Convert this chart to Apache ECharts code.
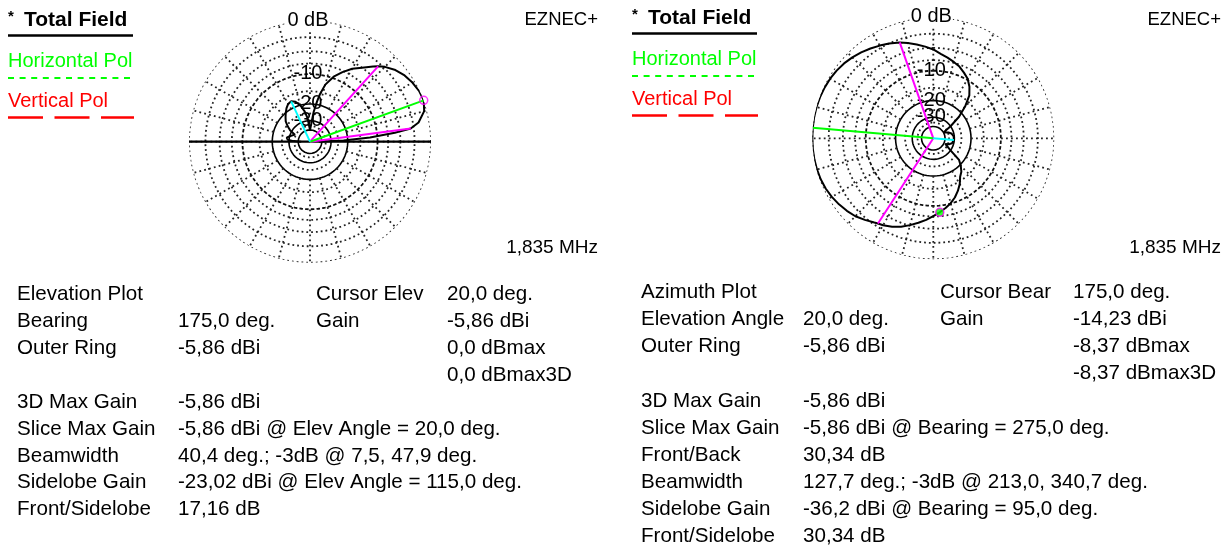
<!DOCTYPE html>
<html><head><meta charset="utf-8">
<script src="https://cdn.jsdelivr.net/npm/echarts@6/dist/echarts.min.js"></script>
<style>html,body{margin:0;padding:0;background:#fff}#c{width:1229px;height:548px}</style>
</head><body><div id="c"></div>
<script>
// ---------- DATA ----------
// Elevation plot (bearing 175 deg), angle in degrees above horizon, gain in dB relative to outer ring (-5,86 dBi)
const elevAngles = [0, 2, 4, 6, 7.5, 10, 15, 20, 25, 30, 35, 40, 45, 47.9, 50, 55, 60, 65, 70, 75, 78, 80, 83, 86, 90, 93, 96, 100, 105, 110, 115, 120, 125, 130, 135, 140, 145, 150, 155, 160, 165, 170, 175, 178, 180];
const elevGainDb = [-45, -22, -12, -6, -3, -1.6, -0.4, 0, -0.1, -0.4, -0.8, -1.4, -2.3, -3, -3.6, -5, -6.2, -7.8, -9.6, -12.3, -15.5, -18.5, -24, -33, -40, -35, -28, -23.5, -20, -18, -17.16, -17.5, -18.6, -20, -21.5, -23, -25.5, -28.5, -34, -36, -30, -28, -29, -34, -45];

// Azimuth plot (elevation 20 deg), compass bearing in degrees, gain in dB relative to outer ring
const azAngles = [0, 5, 10, 15, 20, 25, 30, 35, 40, 45, 50, 55, 60, 65, 70, 75, 80, 85, 90, 95, 100, 105, 110, 115, 120, 125, 130, 135, 140, 145, 150, 155, 160, 165, 170, 175, 180, 185, 190, 195, 200, 205, 210, 213, 215, 220, 225, 230, 235, 240, 245, 250, 255, 260, 265, 270, 275, 280, 285, 290, 295, 300, 305, 310, 315, 320, 325, 330, 335, 340.7, 345, 350, 355, 360];
const azGainDb = [-5.3, -6.1, -6.7, -7.3, -7.9, -8.8, -9.7, -11.2, -13.2, -17, -22, -30, -40, -38, -34, -32, -31, -30.5, -30.4, -30.34, -30.6, -31.5, -33.5, -38, -40, -30, -22, -19.5, -17.5, -16.3, -14.2, -12.6, -11.2, -10.1, -9.2, -8.37, -7.6, -6.7, -5.9, -5.1, -4.3, -3.7, -3.2, -3, -2.8, -2.2, -1.6, -1.2, -0.85, -0.55, -0.32, -0.17, -0.08, -0.03, -0.01, 0, 0, 0, -0.02, -0.07, -0.15, -0.27, -0.43, -0.65, -0.95, -1.3, -1.7, -2.1, -2.5, -3, -3.5, -4.1, -4.7, -5.3];

// Marker lines: [angle, dB]
const elevBeamwidth = [[7.5, -3], [47.9, -3]];
const elevMax = [20, 0];
const elevSidelobe = [115, -17.16];
const elevCursor = [20, 0];
const azBeamwidth = [[213, -3], [340.7, -3]];
const azMax = [275, 0];
const azSidelobe = [95, -30.34];
const azCursor = [175, -8.37];

// Grid rings (dB) and spokes (deg)
const ringsDotted = [0, -2.5, -5, -7.5, -15, -25, -35];
const ringsDashed = [-10];
const ringsSolid = [-20, -30, -40];
const spokeAngles = [0, 15, 30, 45, 60, 75, 90, 105, 120, 135, 150, 165, 180, 195, 210, 225, 240, 255, 270, 285, 300, 315, 330, 345];
const ringLabels = ['-10', '-20', '-30'];
const ringLabelDb = [-10, -20, -30];

// Info text rows
const elevInfo = [
  ['Elevation Plot', '', 'Cursor Elev', '20,0 deg.'],
  ['Bearing', '175,0 deg.', 'Gain', '-5,86 dBi'],
  ['Outer Ring', '-5,86 dBi', '', '0,0 dBmax'],
  ['', '', '', '0,0 dBmax3D'],
  ['3D Max Gain', '-5,86 dBi', '', ''],
  ['Slice Max Gain', '-5,86 dBi @ Elev Angle = 20,0 deg.', '', ''],
  ['Beamwidth', '40,4 deg.; -3dB @ 7,5, 47,9 deg.', '', ''],
  ['Sidelobe Gain', '-23,02 dBi @ Elev Angle = 115,0 deg.', '', ''],
  ['Front/Sidelobe', '17,16 dB', '', '']
];
const azInfo = [
  ['Azimuth Plot', '', 'Cursor Bear', '175,0 deg.'],
  ['Elevation Angle', '20,0 deg.', 'Gain', '-14,23 dBi'],
  ['Outer Ring', '-5,86 dBi', '', '-8,37 dBmax'],
  ['', '', '', '-8,37 dBmax3D'],
  ['3D Max Gain', '-5,86 dBi', '', ''],
  ['Slice Max Gain', '-5,86 dBi @ Bearing = 275,0 deg.', '', ''],
  ['Front/Back', '30,34 dB', '', ''],
  ['Beamwidth', '127,7 deg.; -3dB @ 213,0, 340,7 deg.', '', ''],
  ['Sidelobe Gain', '-36,2 dBi @ Bearing = 95,0 deg.', '', ''],
  ['Front/Sidelobe', '30,34 dB', '', '']
];
const freqLabel = '1,835 MHz';
const progLabel = 'EZNEC+';

// ---------- BUILD ----------
const ARRL = 0.89; // ARRL log scale: factor 0.89 per 2 dB
const rOf = db => Math.pow(ARRL, -Math.max(db, -50) / 2);
const FONT = '"Liberation Sans", Arial, sans-serif';

const circleAngles = [];
for (let a = 0; a <= 360; a += 1) circleAngles.push(a);

const series = [];
function line(pi, data, color, width, type, z) {
  series.push({
    type: 'line', coordinateSystem: 'polar', polarIndex: pi, data: data,
    symbol: 'none', silent: true, animation: false, z: z, clip: false,
    lineStyle: { color: color, width: width, type: type }
  });
}
function grid(pi) {
  ringsDotted.forEach(db => line(pi, circleAngles.map(a => [rOf(db), a]), '#222', 1.8, [1.8, 3], 1));
  ringsDashed.forEach(db => line(pi, circleAngles.map(a => [rOf(db), a]), '#111', 1.8, [3.5, 2.2], 1));
  ringsSolid.forEach(db => line(pi, circleAngles.map(a => [rOf(db), a]), '#000', 1.6, 'solid', 1));
  spokeAngles.forEach(a => line(pi, [[rOf(-20), a], [1, a]], '#222', 1.8, [1.8, 3.2], 1));
}
grid(0); grid(1);

// ground line on elevation plot
line(0, [[1, 0], [0, 0], [1, 180]], '#000', 2.2, 'solid', 3);

// patterns
line(0, elevAngles.map((a, i) => [rOf(elevGainDb[i]), a]), '#000', 2, 'solid', 4);
line(1, azAngles.map((a, i) => [rOf(azGainDb[i]), a]), '#000', 2, 'solid', 4);

// marker lines
elevBeamwidth.forEach(p => line(0, [[0, p[0]], [rOf(p[1]), p[0]]], '#ff00ff', 2, 'solid', 5));
line(0, [[0, elevMax[0]], [rOf(elevMax[1]), elevMax[0]]], '#00ff00', 2, 'solid', 5);
line(0, [[0, elevSidelobe[0]], [rOf(elevSidelobe[1]), elevSidelobe[0]]], '#00ffff', 2, 'solid', 5);
azBeamwidth.forEach(p => line(1, [[0, p[0]], [rOf(p[1]), p[0]]], '#ff00ff', 2, 'solid', 5));
line(1, [[0, azMax[0]], [rOf(azMax[1]), azMax[0]]], '#00ff00', 2, 'solid', 5);
line(1, [[0, azSidelobe[0]], [rOf(azSidelobe[1]), azSidelobe[0]]], '#00ffff', 2, 'solid', 5);

series.push({ type: 'scatter', coordinateSystem: 'polar', polarIndex: 0, silent: true, animation: false, z: 6,
  data: [[rOf(elevCursor[1]), elevCursor[0]]], symbol: 'circle', symbolSize: 8,
  itemStyle: { color: 'rgba(0,0,0,0)', borderColor: '#ff00ff', borderWidth: 1.5 } });
series.push({ type: 'scatter', coordinateSystem: 'polar', polarIndex: 1, silent: true, animation: false, z: 6,
  data: [[rOf(azCursor[1]), azCursor[0]]], symbol: 'circle', symbolSize: 8,
  itemStyle: { color: '#00ff00', borderColor: '#ff00ff', borderWidth: 1.5 } });

// ---------- TEXT ----------
const graphics = [];
function txt(x, y, s, opt) {
  opt = opt || {};
  graphics.push({ type: 'text', x: x, y: y, z: opt.z || 10, silent: true,
    style: { text: s, fill: opt.color || '#000', font: (opt.weight || 'normal') + ' ' + (opt.size || 20) + 'px ' + FONT,
      textAlign: opt.align || 'left', textVerticalAlign: 'middle', align: opt.align || 'left', verticalAlign: 'middle',
      backgroundColor: opt.bg, padding: opt.pad } });
}
function seg(x1, y1, x2, y2, color, w, dash) {
  graphics.push({ type: 'line', z: 10, silent: true, shape: { x1: x1, y1: y1, x2: x2, y2: y2 },
    style: { stroke: color, lineWidth: w, lineDash: dash || null } });
}
function legend(x0, y0) {
  txt(x0, y0 + 17, '*', { size: 15, weight: 'bold' });
  txt(x0 + 16, y0 + 20, 'Total Field', { size: 21, weight: 'bold' });
  seg(x0, y0 + 35.5, x0 + 125, y0 + 35.5, '#000', 2.5);
  txt(x0, y0 + 61, 'Horizontal Pol', { color: '#00ff00' });
  seg(x0, y0 + 78, x0 + 124, y0 + 78, '#00ff00', 2, [6, 5.6]);
  txt(x0, y0 + 101.5, 'Vertical Pol', { color: '#ff0000' });
  seg(x0, y0 + 117.5, x0 + 126, y0 + 117.5, '#ff0000', 2.5, [35, 11.5]);
}
legend(8, 0);
legend(632, -2);

function plotLabels(cx, cy, R, xr, yTop) {
  txt(cx - 2, cy - R - 0.5, '0 dB', { align: 'center', bg: '#fff', pad: [0, 1], z: 3 });
  ringLabels.forEach((s, i) => txt(cx - 2, cy - R * rOf(ringLabelDb[i]) - 0.5, s, { align: 'center', z: 3 }));
  txt(xr, yTop, progLabel, { align: 'right', size: 18.5 });
  txt(xr, 248, freqLabel, { align: 'right', size: 19 });
}
plotLabels(310, 141.7, 121, 598, 20);
plotLabels(933.3, 138.3, 121, 1221, 20);

function info(rows, xs, y0, dy) {
  rows.forEach((r, i) => r.forEach((s, j) => { if (s) txt(xs[j], y0 + i * dy, s, { size: 20.6 }); }));
}
info(elevInfo, [17, 178, 316, 447], 294.5, 26.9);
info(azInfo, [641, 803, 940, 1073], 292.5, 27.1);

// ---------- CHART ----------
const chart = echarts.init(document.getElementById('c'), null, { renderer: 'canvas' });
chart.setOption({
  animation: false,
  backgroundColor: '#fff',
  polar: [
    { center: [310, 141.7], radius: 121 },
    { center: [933.3, 138.3], radius: 121 }
  ],
  angleAxis: [
    { polarIndex: 0, type: 'value', min: 0, max: 360, startAngle: 0, clockwise: false, show: false },
    { polarIndex: 1, type: 'value', min: 0, max: 360, startAngle: 90, clockwise: true, show: false }
  ],
  radiusAxis: [
    { polarIndex: 0, type: 'value', min: 0, max: 1, show: false },
    { polarIndex: 1, type: 'value', min: 0, max: 1, show: false }
  ],
  graphic: { elements: graphics },
  series: series
});
</script></body></html>
